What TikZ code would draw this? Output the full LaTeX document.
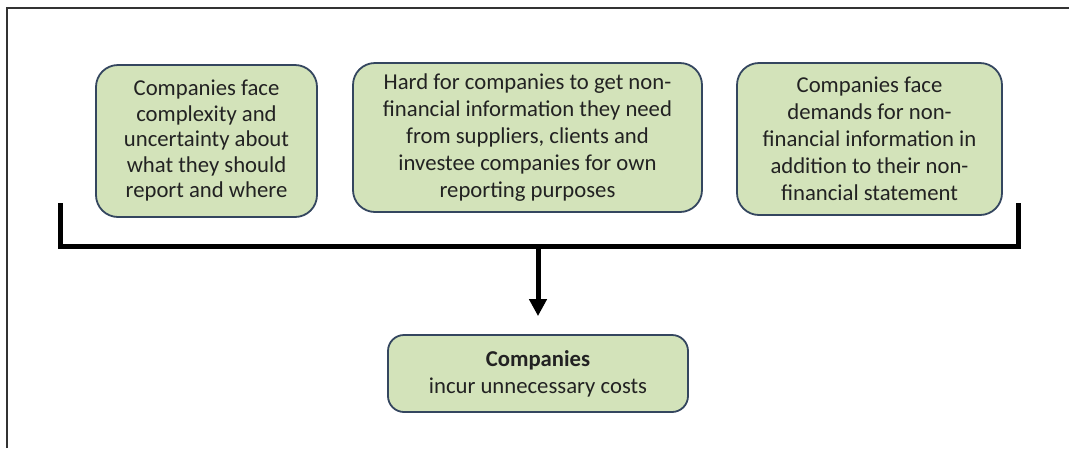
\documentclass[tikz,border=0pt]{standalone}
\usepackage{fontspec}
\setmainfont{Carlito}
\usetikzlibrary{arrows.meta}
\definecolor{boxfill}{HTML}{D3E3BA}
\definecolor{boxline}{HTML}{34465F}
\definecolor{txt}{HTML}{222222}
\definecolor{frame}{HTML}{333333}
\tikzset{
  gbox/.style={draw=boxline, line width=1.8pt, fill=boxfill, rounded corners=22pt,
    align=center, text=txt, inner sep=0pt, font=\fontsize{22.7}{27}\selectfont},
  bracketline/.style={line width=5pt, black},
}
\begin{document}
\begin{tikzpicture}[x=1pt,y=-1pt]
\useasboundingbox (0,0) rectangle (1069,448);
\fill[white] (0,0) rectangle (1069,448);
\draw[frame, line width=2pt] (7,448) -- (7,8) -- (1069,8);

\node[gbox, minimum width=221pt, minimum height=152pt, font=\fontsize{22.7}{25.5}\selectfont] (b1) at (206.5,141)
  {Companies face\\complexity and\\uncertainty about\\what they should\\report and where};
\node[gbox, minimum width=349pt, minimum height=149pt] (b2) at (527.5,137.5)
  {Hard for companies to get non-\\financial information they need\\from suppliers, clients and\\investee companies for own\\reporting purposes};
\node[gbox, minimum width=265pt, minimum height=152pt] (b3) at (869.5,139)
  {Companies face\\demands for non-\\financial information in\\addition to their non-\\financial statement};
\node[gbox, minimum width=300pt, minimum height=77pt, rounded corners=16pt] (b4) at (538,373.5)
  {\textbf{Companies}\\incur unnecessary costs};

\coordinate (bl) at (60,203);
\coordinate (br) at (1018,203);
\coordinate (blc) at (60,246);
\coordinate (brc) at (1018,246);
\coordinate (mid) at (b4.north |- blc);
\draw[bracketline] (bl) -- (blc) -- (brc) -- (br);
\draw[line width=5pt, -{Triangle[width=17pt,length=17pt]}, shorten >=18pt] (mid) -- (b4.north);
\end{tikzpicture}
\end{document}
